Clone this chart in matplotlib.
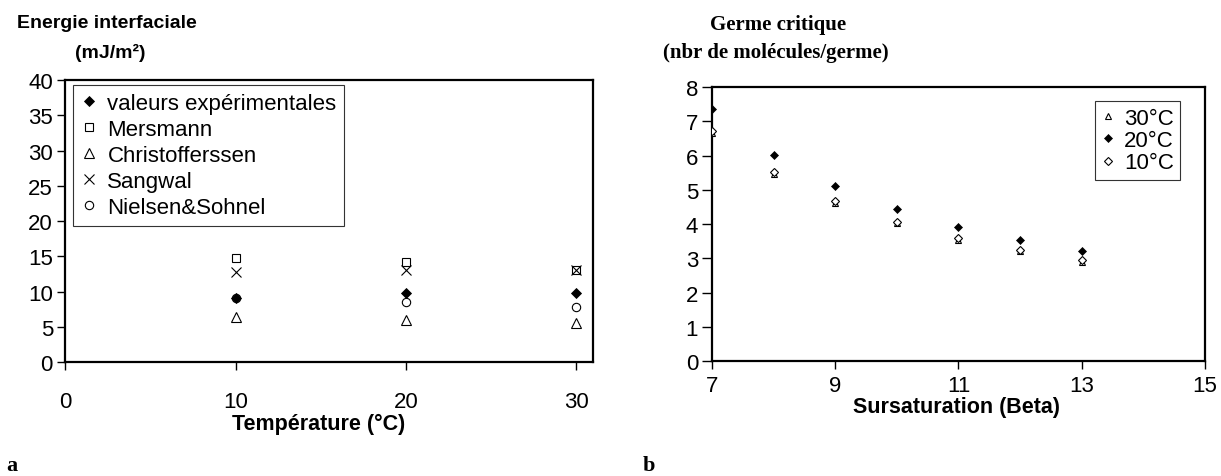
import matplotlib.pyplot as plt

plt.rcParams['font.family'] = ['Liberation Sans', 'DejaVu Sans']

# panel a : interfacial energy vs temperature
temperature = [10, 20, 30]
experimental = [9.05, 9.8, 9.8]
mersmann = [14.8, 14.15, 13.0]
christofferssen = [6.4, 5.9, 5.5]
sangwal = [12.8, 13.0, 13.0]
nielsen_sohnel = [9.05, 8.5, 7.8]

# panel b : critical nucleus vs supersaturation
beta = [7, 8, 9, 10, 11, 12, 13]
germ_30 = [6.65, 5.46, 4.60, 4.02, 3.54, 3.20, 2.90]
germ_20 = [7.35, 6.02, 5.11, 4.44, 3.90, 3.54, 3.22]
germ_10 = [6.71, 5.52, 4.67, 4.06, 3.60, 3.24, 2.94]

fig = plt.figure(figsize=(12.21, 4.77), dpi=100)

# ---- panel a
ax1 = fig.add_axes([0.0536, 0.239, 0.4321, 0.591])
ax1.plot(temperature, experimental, 'D', ms=5, color='black', mew=0.6,
         label='valeurs expérimentales', zorder=4)
ax1.plot(temperature, mersmann, 's', ms=6, mfc='white', mec='black', mew=0.8,
         label='Mersmann')
ax1.plot(temperature, christofferssen, '^', ms=7, mfc='white', mec='black', mew=0.8,
         label='Christofferssen')
ax1.plot(temperature, sangwal, 'x', ms=7, color='black', mew=0.8, label='Sangwal')
ax1.plot(temperature, nielsen_sohnel, 'o', ms=6, mfc='none', mec='black', mew=0.8,
         label='Nielsen&Sohnel')
ax1.set_xlim(0, 31)
ax1.set_ylim(0, 40)
ax1.set_xticks([0, 10, 20, 30])
ax1.set_yticks(range(0, 41, 5))
ax1.tick_params(axis='x', length=6, width=1, labelsize=16, pad=15)
ax1.tick_params(axis='y', length=6, width=1, labelsize=16, pad=3)
for s in ax1.spines.values():
    s.set_linewidth(1.6)
leg1 = ax1.legend(loc='upper left', bbox_to_anchor=(0.0598, 0.8197),
                  bbox_transform=fig.transFigure, borderaxespad=0,
                  fontsize=16, handlelength=0.7, handletextpad=0.5,
                  labelspacing=0.23, borderpad=0.35, fancybox=False,
                  edgecolor='#333333', framealpha=1)
leg1.get_frame().set_linewidth(0.8)

fig.text(0.014, 0.950, 'Energie interfaciale', fontsize=14, fontweight='bold',
         ha='left', va='center')
fig.text(0.0905, 0.888, '(mJ/m²)', fontsize=14, fontweight='bold',
         ha='center', va='center')
fig.text(0.261, 0.110, 'Température (°C)', fontsize=15.5, fontweight='bold',
         ha='center', va='center')
fig.text(0.005, 0.003, 'a', fontsize=16, fontweight='bold',
         family=['Liberation Serif'], ha='left', va='bottom')

# ---- panel b
ax2 = fig.add_axes([0.5831, 0.241, 0.4038, 0.5745])
ax2.plot(beta, germ_30, '^', ms=5, mfc='white', mec='black', mew=0.8,
         label='30°C', zorder=3)
ax2.plot(beta, germ_20, 'D', ms=4.5, color='black', mew=0.5,
         label='20°C', zorder=3)
ax2.plot(beta, germ_10, 'D', ms=4.5, mfc='white', mec='black', mew=0.8,
         label='10°C', zorder=4)
ax2.set_xlim(7, 15)
ax2.set_ylim(0, 8)
ax2.set_xticks([7, 9, 11, 13, 15])
ax2.set_yticks(range(0, 9))
ax2.tick_params(axis='x', length=6, width=1, labelsize=16, pad=4)
ax2.tick_params(axis='y', length=7, width=1, labelsize=16, pad=3)
for s in ax2.spines.values():
    s.set_linewidth(1.6)
leg2 = ax2.legend(loc='upper left', bbox_to_anchor=(0.8968, 0.7862),
                  bbox_transform=fig.transFigure, borderaxespad=0,
                  fontsize=16, handlelength=0.6, handletextpad=0.4,
                  labelspacing=0.06, borderpad=0.3, fancybox=False,
                  edgecolor='#333333', framealpha=1)
leg2.get_frame().set_linewidth(0.8)

fig.text(0.6375, 0.947, 'Germe critique', fontsize=15, fontweight='bold',
         family=['Liberation Serif'], ha='center', va='center')
fig.text(0.6355, 0.888, '(nbr de molécules/germe)', fontsize=15, fontweight='bold',
         family=['Liberation Serif'], ha='center', va='center')
fig.text(0.783, 0.145, 'Sursaturation (Beta)', fontsize=15.5, fontweight='bold',
         ha='center', va='center')
fig.text(0.526, 0.003, 'b', fontsize=16, fontweight='bold',
         family=['Liberation Serif'], ha='left', va='bottom')

fig.savefig('out.png', dpi=100)
